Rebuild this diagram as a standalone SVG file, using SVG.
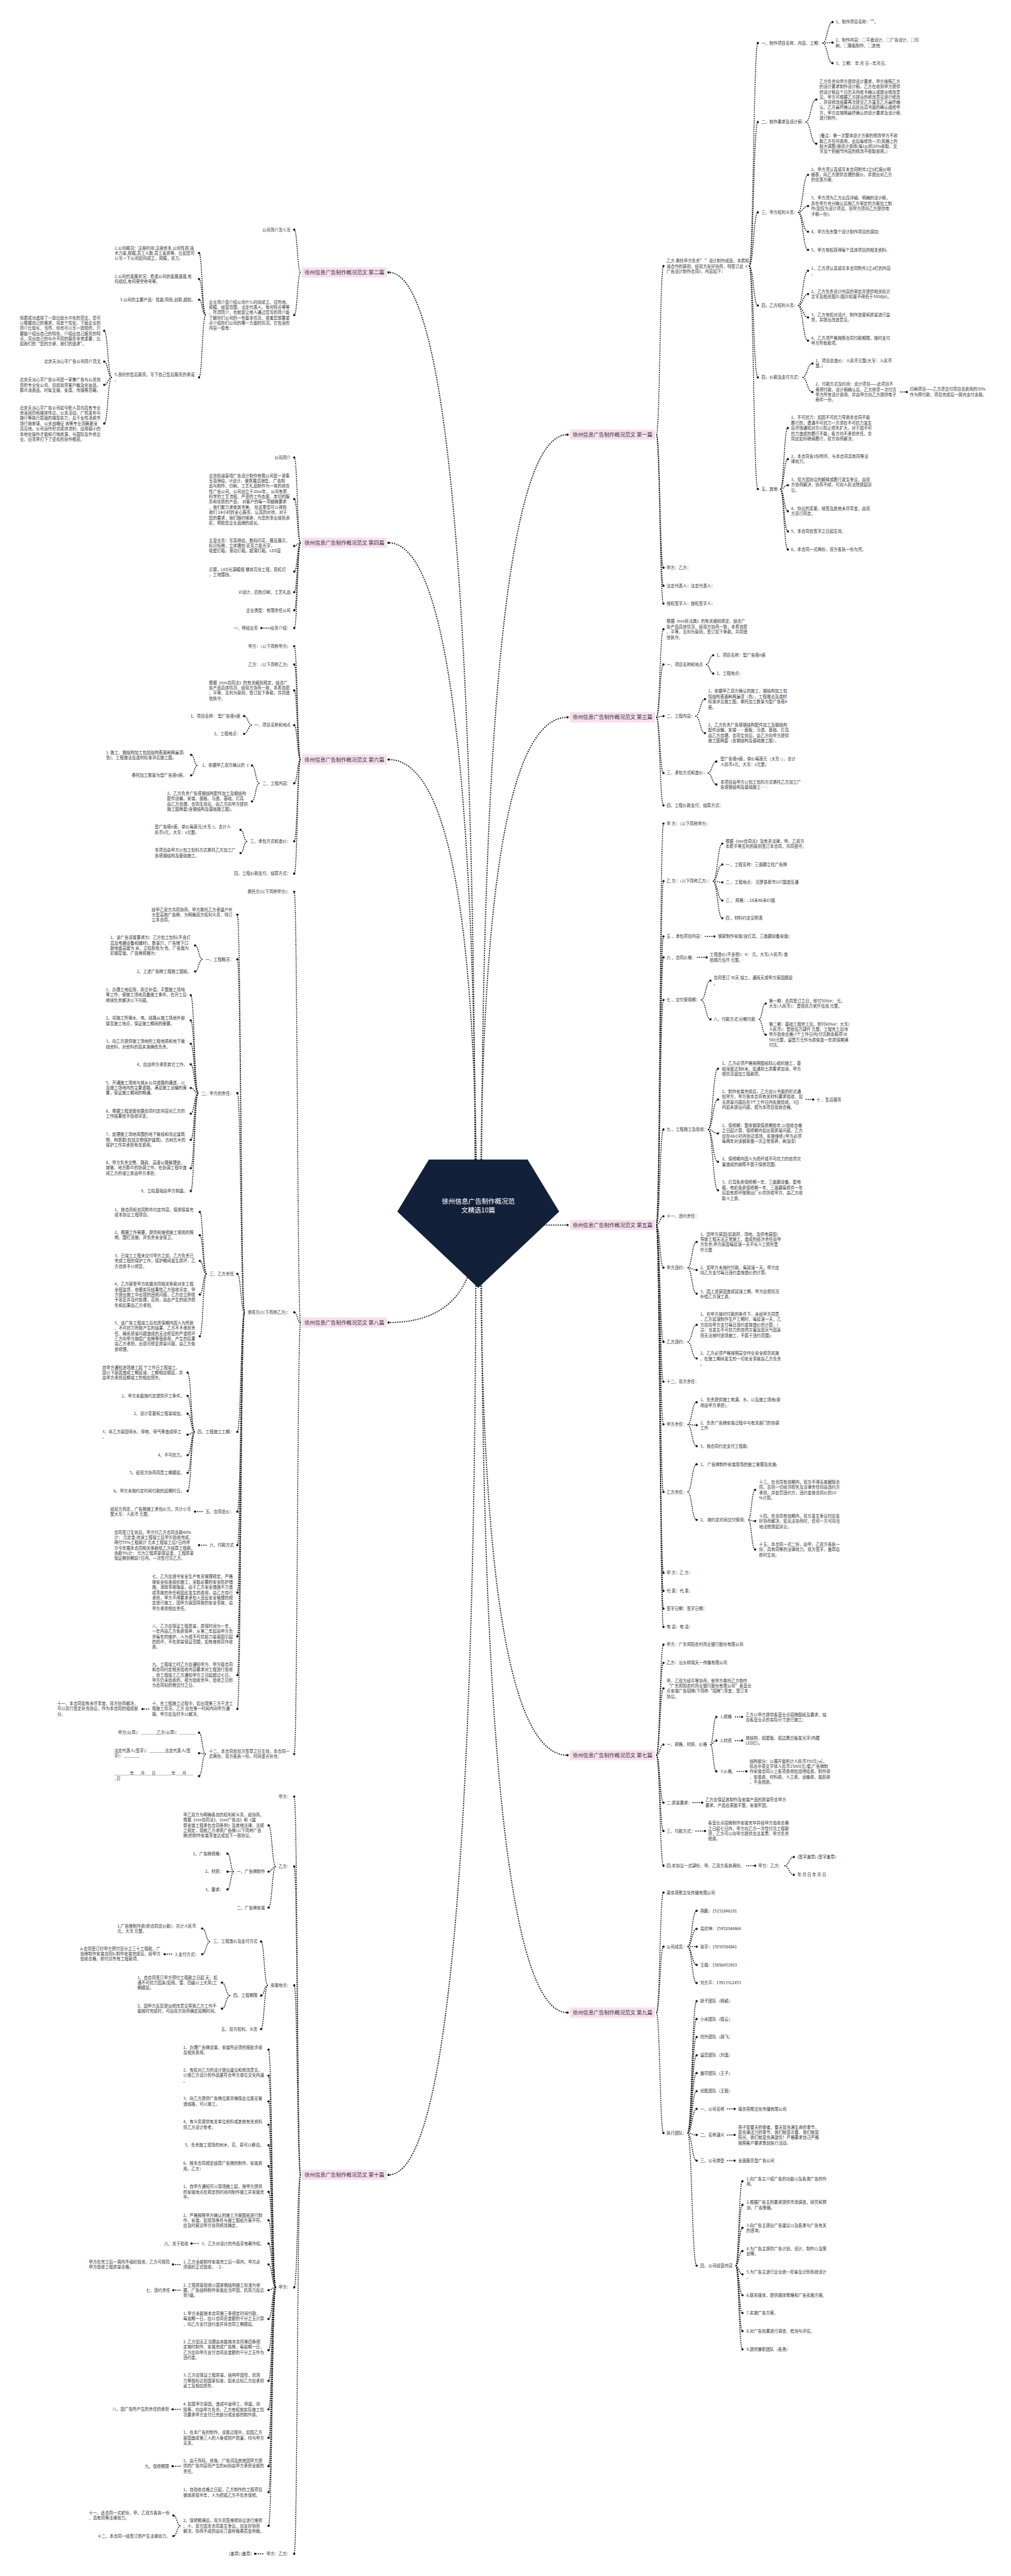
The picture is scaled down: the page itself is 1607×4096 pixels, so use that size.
<svg xmlns="http://www.w3.org/2000/svg" width="1607" height="4096" viewBox="0 0 1607 4096">
<defs>
<style>
.t{font-family:"Noto Sans CJK SC","Liberation Sans",sans-serif;font-size:10.25px;fill:#333}
.e{text-anchor:end}
.l1{font-family:"Noto Sans CJK SC","Liberation Sans",sans-serif;font-size:13.3px;fill:#333}
.cm{font-family:"Noto Sans CJK SC","Liberation Sans",sans-serif;font-size:16.8px;fill:#fff;text-anchor:middle}
.lb{fill:#f8dff0}
.c0{fill:none;stroke:#1a1a1a;stroke-width:2.9;stroke-dasharray:3 2.8;marker-end:url(#d)}
#cn path{fill:none;stroke:#1a1a1a;stroke-width:2.3;stroke-dasharray:3 2.4;marker-end:url(#d)}
</style>
<marker id="d" viewBox="0 0 8 8" refX="4" refY="4" markerWidth="7" markerHeight="7" markerUnits="userSpaceOnUse"><circle cx="4" cy="4" r="3.3" fill="#1a1a1a"/></marker>
</defs>
<rect width="1607" height="4096" fill="#fff"/>
<g transform="scale(0.62773)">
<g id="connectors">
<path class="c0" d="M1203 3100Q1203 690 984 690"/>
<path class="c0" d="M1205 3100Q1205 1375 984 1375"/>
<path class="c0" d="M1207 3100Q1207 1924 984 1924"/>
<path class="c0" d="M1207 3100Q1207 3350 984 3350"/>
<path class="c0" d="M1205 3100Q1205 5509 984 5509"/>
<path class="c0" d="M1219 3100Q1219 1101 1437 1101"/>
<path class="c0" d="M1217 3100Q1217 1817 1437 1817"/>
<path class="c0" d="M1215 3100Q1215 3103 1437 3103"/>
<path class="c0" d="M1217 3100Q1217 4446 1437 4446"/>
<path class="c0" d="M1219 3100Q1219 5098 1437 5098"/>
<g id="cn">
<path d="M1662 1101C1671 1101 1671 674 1680 674"/>
<path d="M1662 1101C1671 1101 1671 1438 1680 1438"/>
<path d="M1662 1101C1671 1101 1671 1484 1680 1484"/>
<path d="M1662 1101C1671 1101 1671 1529 1680 1529"/>
<path d="M1897 674C1908 674 1908 109 1919 109"/>
<path d="M1897 674C1908 674 1908 309 1919 309"/>
<path d="M1897 674C1908 674 1908 538 1919 538"/>
<path d="M1897 674C1908 674 1908 774 1919 774"/>
<path d="M1897 674C1908 674 1908 956 1919 956"/>
<path d="M1897 674C1908 674 1908 1239 1919 1239"/>
<path d="M2083 109C2095 109 2095 56 2108 56"/>
<path d="M2083 109C2095 109 2095 108 2108 108"/>
<path d="M2083 109C2095 109 2095 160 2108 160"/>
<path d="M2040 309C2053 309 2053 252 2067 252"/>
<path d="M2040 309C2053 309 2053 364 2067 364"/>
<path d="M2021 538C2033 538 2033 443 2046 443"/>
<path d="M2021 538C2033 538 2033 522 2046 522"/>
<path d="M2021 538C2033 538 2033 587 2046 587"/>
<path d="M2021 538C2033 538 2033 633 2046 633"/>
<path d="M2021 774C2033 774 2033 686 2046 686"/>
<path d="M2021 774C2033 774 2033 745 2046 745"/>
<path d="M2021 774C2033 774 2033 804 2046 804"/>
<path d="M2021 774C2033 774 2033 863 2046 863"/>
<path d="M2032 956C2044 956 2044 921 2057 921"/>
<path d="M2032 956C2044 956 2044 993 2057 993"/>
<path d="M2279 993L2296 993"/>
<path d="M1976 1239C1985 1239 1985 1084 1995 1084"/>
<path d="M1976 1239C1985 1239 1985 1163 1995 1163"/>
<path d="M1976 1239C1985 1239 1985 1229 1995 1229"/>
<path d="M1976 1239C1985 1239 1985 1295 1995 1295"/>
<path d="M1976 1239C1985 1239 1985 1346 1995 1346"/>
<path d="M1976 1239C1985 1239 1985 1392 1995 1392"/>
<path d="M1662 1817C1671 1817 1671 1594 1680 1594"/>
<path d="M1662 1817C1671 1817 1671 1683 1680 1683"/>
<path d="M1662 1817C1671 1817 1671 1814 1680 1814"/>
<path d="M1662 1817C1671 1817 1671 1958 1680 1958"/>
<path d="M1662 1817C1671 1817 1671 2040 1680 2040"/>
<path d="M1788 1683C1797 1683 1797 1660 1806 1660"/>
<path d="M1788 1683C1797 1683 1797 1706 1806 1706"/>
<path d="M1761 1814C1773 1814 1773 1771 1785 1771"/>
<path d="M1761 1814C1773 1814 1773 1857 1785 1857"/>
<path d="M1792 1958C1803 1958 1803 1929 1814 1929"/>
<path d="M1792 1958C1803 1958 1803 1987 1814 1987"/>
<path d="M1662 3103C1671 3103 1671 2086 1680 2086"/>
<path d="M1662 3103C1671 3103 1671 2232 1680 2232"/>
<path d="M1662 3103C1671 3103 1671 2372 1680 2372"/>
<path d="M1662 3103C1671 3103 1671 2425 1680 2425"/>
<path d="M1662 3103C1671 3103 1671 2533 1680 2533"/>
<path d="M1662 3103C1671 3103 1671 2861 1680 2861"/>
<path d="M1662 3103C1671 3103 1671 3081 1680 3081"/>
<path d="M1662 3103C1671 3103 1671 3211 1680 3211"/>
<path d="M1662 3103C1671 3103 1671 3399 1680 3399"/>
<path d="M1662 3103C1671 3103 1671 3500 1680 3500"/>
<path d="M1662 3103C1671 3103 1671 3608 1680 3608"/>
<path d="M1662 3103C1671 3103 1671 3779 1680 3779"/>
<path d="M1662 3103C1671 3103 1671 3984 1680 3984"/>
<path d="M1662 3103C1671 3103 1671 4030 1680 4030"/>
<path d="M1662 3103C1671 3103 1671 4075 1680 4075"/>
<path d="M1662 3103C1671 3103 1671 4121 1680 4121"/>
<path d="M1805 2232C1817 2232 1817 2137 1829 2137"/>
<path d="M1805 2232C1817 2232 1817 2190 1829 2190"/>
<path d="M1805 2232C1817 2232 1817 2235 1829 2235"/>
<path d="M1805 2232C1817 2232 1817 2281 1829 2281"/>
<path d="M1805 2232C1817 2232 1817 2326 1829 2326"/>
<path d="M1785 2372L1809 2372"/>
<path d="M1765 2425L1789 2425"/>
<path d="M1775 2533C1787 2533 1787 2484 1799 2484"/>
<path d="M1775 2533C1787 2533 1787 2582 1799 2582"/>
<path d="M1922 2582C1930 2582 1930 2542 1939 2542"/>
<path d="M1922 2582C1930 2582 1930 2621 1939 2621"/>
<path d="M1793 2861C1805 2861 1805 2707 1818 2707"/>
<path d="M1793 2861C1805 2861 1805 2785 1818 2785"/>
<path d="M1793 2861C1805 2861 1805 2871 1818 2871"/>
<path d="M1793 2861C1805 2861 1805 2943 1818 2943"/>
<path d="M1793 2861C1805 2861 1805 3015 1818 3015"/>
<path d="M2040 2785L2059 2785"/>
<path d="M1741 3211C1752 3211 1752 3146 1764 3146"/>
<path d="M1741 3211C1752 3211 1752 3217 1764 3217"/>
<path d="M1741 3211C1752 3211 1752 3277 1764 3277"/>
<path d="M1741 3399C1752 3399 1752 3356 1764 3356"/>
<path d="M1741 3399C1752 3399 1752 3441 1764 3441"/>
<path d="M1741 3608C1752 3608 1752 3552 1764 3552"/>
<path d="M1741 3608C1752 3608 1752 3610 1764 3610"/>
<path d="M1741 3608C1752 3608 1752 3663 1764 3663"/>
<path d="M1741 3779C1752 3779 1752 3709 1764 3709"/>
<path d="M1741 3779C1752 3779 1752 3850 1764 3850"/>
<path d="M1895 3850C1903 3850 1903 3774 1912 3774"/>
<path d="M1895 3850C1903 3850 1903 3853 1912 3853"/>
<path d="M1895 3850C1903 3850 1903 3925 1912 3925"/>
<path d="M1662 4446C1671 4446 1671 4166 1680 4166"/>
<path d="M1662 4446C1671 4446 1671 4212 1680 4212"/>
<path d="M1662 4446C1671 4446 1671 4277 1680 4277"/>
<path d="M1662 4446C1671 4446 1671 4419 1680 4419"/>
<path d="M1662 4446C1671 4446 1671 4566 1680 4566"/>
<path d="M1662 4446C1671 4446 1671 4638 1680 4638"/>
<path d="M1662 4446C1671 4446 1671 4726 1680 4726"/>
<path d="M1799 4419C1806 4419 1806 4349 1814 4349"/>
<path d="M1799 4419C1806 4419 1806 4409 1814 4409"/>
<path d="M1799 4419C1806 4419 1806 4487 1814 4487"/>
<path d="M1861 4349L1879 4349"/>
<path d="M1861 4409L1879 4409"/>
<path d="M1865 4487L1890 4487"/>
<path d="M1753 4566L1778 4566"/>
<path d="M1761 4638L1785 4638"/>
<path d="M1889 4726L1912 4726"/>
<path d="M1986 4726C1998 4726 1998 4704 2010 4704"/>
<path d="M1986 4726C1998 4726 1998 4749 2010 4749"/>
<path d="M1662 5098C1671 5098 1671 4794 1680 4794"/>
<path d="M1662 5098C1671 5098 1671 4931 1680 4931"/>
<path d="M1662 5098C1671 5098 1671 5403 1680 5403"/>
<path d="M1741 4931C1752 4931 1752 4840 1764 4840"/>
<path d="M1741 4931C1752 4931 1752 4886 1764 4886"/>
<path d="M1741 4931C1752 4931 1752 4931 1764 4931"/>
<path d="M1741 4931C1752 4931 1752 4977 1764 4977"/>
<path d="M1741 4931C1752 4931 1752 5023 1764 5023"/>
<path d="M1741 5403C1752 5403 1752 5069 1764 5069"/>
<path d="M1741 5403C1752 5403 1752 5114 1764 5114"/>
<path d="M1741 5403C1752 5403 1752 5160 1764 5160"/>
<path d="M1741 5403C1752 5403 1752 5206 1764 5206"/>
<path d="M1741 5403C1752 5403 1752 5251 1764 5251"/>
<path d="M1741 5403C1752 5403 1752 5297 1764 5297"/>
<path d="M1741 5403C1752 5403 1752 5342 1764 5342"/>
<path d="M1741 5403C1752 5403 1752 5408 1764 5408"/>
<path d="M1741 5403C1752 5403 1752 5473 1764 5473"/>
<path d="M1741 5403C1752 5403 1752 5739 1764 5739"/>
<path d="M1841 5342L1860 5342"/>
<path d="M1841 5408L1860 5408"/>
<path d="M1841 5473L1860 5473"/>
<path d="M1863 5739C1871 5739 1871 5525 1880 5525"/>
<path d="M1863 5739C1871 5739 1871 5585 1880 5585"/>
<path d="M1863 5739C1871 5739 1871 5643 1880 5643"/>
<path d="M1863 5739C1871 5739 1871 5702 1880 5702"/>
<path d="M1863 5739C1871 5739 1871 5761 1880 5761"/>
<path d="M1863 5739C1871 5739 1871 5814 1880 5814"/>
<path d="M1863 5739C1871 5739 1871 5859 1880 5859"/>
<path d="M1863 5739C1871 5739 1871 5905 1880 5905"/>
<path d="M1863 5739C1871 5739 1871 5951 1880 5951"/>
<path d="M761 690C753 690 753 582 745 582"/>
<path d="M761 690C753 690 753 798 745 798"/>
<path d="M521 798C512 798 512 641 504 641"/>
<path d="M521 798C512 798 512 707 504 707"/>
<path d="M521 798C512 798 512 759 504 759"/>
<path d="M521 798C512 798 512 956 504 956"/>
<path d="M283 956C273 956 273 838 264 838"/>
<path d="M283 956C273 956 273 916 264 916"/>
<path d="M283 956C273 956 273 975 264 975"/>
<path d="M283 956C273 956 273 1073 264 1073"/>
<path d="M761 1375C753 1375 753 1159 745 1159"/>
<path d="M761 1375C753 1375 753 1264 745 1264"/>
<path d="M761 1375C753 1375 753 1383 745 1383"/>
<path d="M761 1375C753 1375 753 1448 745 1448"/>
<path d="M761 1375C753 1375 753 1500 745 1500"/>
<path d="M761 1375C753 1375 753 1546 745 1546"/>
<path d="M761 1375C753 1375 753 1591 745 1591"/>
<path d="M686 1591L662 1591"/>
<path d="M761 1924C753 1924 753 1637 745 1637"/>
<path d="M761 1924C753 1924 753 1683 745 1683"/>
<path d="M761 1924C753 1924 753 1749 745 1749"/>
<path d="M761 1924C753 1924 753 1837 745 1837"/>
<path d="M761 1924C753 1924 753 1984 745 1984"/>
<path d="M761 1924C753 1924 753 2131 745 2131"/>
<path d="M761 1924C753 1924 753 2213 745 2213"/>
<path d="M638 1837C628 1837 628 1814 618 1814"/>
<path d="M638 1837C628 1837 628 1859 618 1859"/>
<path d="M657 1984C647 1984 647 1939 638 1939"/>
<path d="M657 1984C647 1984 647 2030 638 2030"/>
<path d="M500 1939C492 1939 492 1912 484 1912"/>
<path d="M500 1939C492 1939 492 1964 484 1964"/>
<path d="M626 2131C617 2131 617 2102 609 2102"/>
<path d="M626 2131C617 2131 617 2161 609 2161"/>
<path d="M761 3350C753 3350 753 2259 745 2259"/>
<path d="M761 3350C753 3350 753 3324 745 3324"/>
<path d="M761 3350C753 3350 753 4443 745 4443"/>
<path d="M619 3324C610 3324 610 2317 601 2317"/>
<path d="M619 3324C610 3324 610 2430 601 2430"/>
<path d="M619 3324C610 3324 610 2769 601 2769"/>
<path d="M619 3324C610 3324 610 3227 601 3227"/>
<path d="M619 3324C610 3324 610 3627 601 3627"/>
<path d="M619 3324C610 3324 610 3829 601 3829"/>
<path d="M619 3324C610 3324 610 3914 601 3914"/>
<path d="M619 3324C610 3324 610 4034 601 4034"/>
<path d="M619 3324C610 3324 610 4145 601 4145"/>
<path d="M619 3324C610 3324 610 4243 601 4243"/>
<path d="M619 3324C610 3324 610 4329 601 4329"/>
<path d="M513 2430C503 2430 503 2395 494 2395"/>
<path d="M513 2430C503 2430 503 2461 494 2461"/>
<path d="M502 2769C492 2769 492 2521 483 2521"/>
<path d="M502 2769C492 2769 492 2585 483 2585"/>
<path d="M502 2769C492 2769 492 2644 483 2644"/>
<path d="M502 2769C492 2769 492 2696 483 2696"/>
<path d="M502 2769C492 2769 492 2756 483 2756"/>
<path d="M502 2769C492 2769 492 2821 483 2821"/>
<path d="M502 2769C492 2769 492 2887 483 2887"/>
<path d="M502 2769C492 2769 492 2959 483 2959"/>
<path d="M502 2769C492 2769 492 3017 483 3017"/>
<path d="M523 3227C514 3227 514 3070 506 3070"/>
<path d="M523 3227C514 3227 514 3129 506 3129"/>
<path d="M523 3227C514 3227 514 3194 506 3194"/>
<path d="M523 3227C514 3227 514 3279 506 3279"/>
<path d="M523 3227C514 3227 514 3385 506 3385"/>
<path d="M493 3627C484 3627 484 3477 475 3477"/>
<path d="M493 3627C484 3627 484 3536 475 3536"/>
<path d="M493 3627C484 3627 484 3581 475 3581"/>
<path d="M493 3627C484 3627 484 3634 475 3634"/>
<path d="M493 3627C484 3627 484 3686 475 3686"/>
<path d="M493 3627C484 3627 484 3731 475 3731"/>
<path d="M493 3627C484 3627 484 3777 475 3777"/>
<path d="M513 3829L494 3829"/>
<path d="M523 3914L504 3914"/>
<path d="M378 4329L361 4329"/>
<path d="M521 4443C512 4443 512 4389 504 4389"/>
<path d="M521 4443C512 4443 512 4441 504 4441"/>
<path d="M521 4443C512 4443 512 4499 504 4499"/>
<path d="M761 5509C753 5509 753 4551 745 4551"/>
<path d="M761 5509C753 5509 753 4728 745 4728"/>
<path d="M761 5509C753 5509 753 5029 745 5029"/>
<path d="M761 5509C753 5509 753 5794 745 5794"/>
<path d="M761 5509C753 5509 753 6469 745 6469"/>
<path d="M698 4728C689 4728 689 4624 680 4624"/>
<path d="M698 4728C689 4728 689 4741 680 4741"/>
<path d="M698 4728C689 4728 689 4832 680 4832"/>
<path d="M592 4741C584 4741 584 4695 576 4695"/>
<path d="M592 4741C584 4741 584 4741 576 4741"/>
<path d="M592 4741C584 4741 584 4786 576 4786"/>
<path d="M678 5029C669 5029 669 4918 661 4918"/>
<path d="M678 5029C669 5029 669 5055 661 5055"/>
<path d="M678 5029C669 5029 669 5140 661 5140"/>
<path d="M532 4918C522 4918 522 4885 512 4885"/>
<path d="M532 4918C522 4918 522 4950 512 4950"/>
<path d="M436 4950L417 4950"/>
<path d="M583 5055C572 5055 572 5022 562 5022"/>
<path d="M583 5055C572 5055 572 5088 562 5088"/>
<path d="M698 5794C689 5794 689 5192 680 5192"/>
<path d="M698 5794C689 5794 689 5258 680 5258"/>
<path d="M698 5794C689 5794 689 5323 680 5323"/>
<path d="M698 5794C689 5794 689 5382 680 5382"/>
<path d="M698 5794C689 5794 689 5434 680 5434"/>
<path d="M698 5794C689 5794 689 5487 680 5487"/>
<path d="M698 5794C689 5794 689 5552 680 5552"/>
<path d="M698 5794C689 5794 689 5624 680 5624"/>
<path d="M698 5794C689 5794 689 5683 680 5683"/>
<path d="M698 5794C689 5794 689 5736 680 5736"/>
<path d="M698 5794C689 5794 689 5801 680 5801"/>
<path d="M698 5794C689 5794 689 5874 680 5874"/>
<path d="M698 5794C689 5794 689 5953 680 5953"/>
<path d="M698 5794C689 5794 689 6031 680 6031"/>
<path d="M698 5794C689 5794 689 6103 680 6103"/>
<path d="M698 5794C689 5794 689 6175 680 6175"/>
<path d="M698 5794C689 5794 689 6247 680 6247"/>
<path d="M698 5794C689 5794 689 6313 680 6313"/>
<path d="M698 5794C689 5794 689 6398 680 6398"/>
<path d="M503 5683L485 5683"/>
<path d="M457 5736L438 5736"/>
<path d="M457 5801L439 5801"/>
<path d="M457 6103L437 6103"/>
<path d="M457 6247L437 6247"/>
<path d="M457 6398C448 6398 448 6372 439 6372"/>
<path d="M457 6398C448 6398 448 6424 439 6424"/>
<path d="M667 6469L646 6469"/>
</g>
</g>
<g id="center"><polygon points="1086,2937 1336,2937 1416,3069 1211,3262 1006,3069" fill="#13203a"/><text class="cm" x="1211" y="3049">徐州信息广告制作概况范</text><text class="cm" x="1211" y="3072">文精选10篇</text></g>
<g id="p1"><rect class="lb" x="1443" y="1088" width="216" height="26"/><text class="l1" x="1450" y="1105.6">徐州信息广告制作概况范文 第一篇</text></g>
<g id="p3"><rect class="lb" x="1443" y="1804" width="216" height="26"/><text class="l1" x="1450" y="1821.6">徐州信息广告制作概况范文 第三篇</text></g>
<g id="p5"><rect class="lb" x="1443" y="3090" width="216" height="26"/><text class="l1" x="1450" y="3107.6">徐州信息广告制作概况范文 第五篇</text></g>
<g id="p7"><rect class="lb" x="1443" y="4433" width="216" height="26"/><text class="l1" x="1450" y="4450.6">徐州信息广告制作概况范文 第七篇</text></g>
<g id="p9"><rect class="lb" x="1443" y="5085" width="216" height="26"/><text class="l1" x="1450" y="5102.6">徐州信息广告制作概况范文 第九篇</text></g>
<g id="p2"><rect class="lb" x="764" y="677" width="216" height="26"/><text class="l1" x="771" y="694.6">徐州信息广告制作概况范文 第二篇</text></g>
<g id="p4"><rect class="lb" x="764" y="1362" width="216" height="26"/><text class="l1" x="771" y="1379.6">徐州信息广告制作概况范文 第四篇</text></g>
<g id="p6"><rect class="lb" x="764" y="1911" width="216" height="26"/><text class="l1" x="771" y="1928.6">徐州信息广告制作概况范文 第六篇</text></g>
<g id="p8"><rect class="lb" x="764" y="3337" width="216" height="26"/><text class="l1" x="771" y="3354.6">徐州信息广告制作概况范文 第八篇</text></g>
<g id="p10"><rect class="lb" x="764" y="5496" width="216" height="26"/><text class="l1" x="771" y="5513.6">徐州信息广告制作概况范文 第十篇</text></g>

<g id="n1a"><text class="t" x="1688" y="664.7"><tspan x="1688">乙方 委托甲方负责” ”设计制作成品，本着精</tspan><tspan x="1688" dy="13.4">诚合作的原则，经双方友好协商，特签订此《</tspan><tspan x="1688" dy="13.4">广告设计制作合同》，内容如下：</tspan></text></g>
<g id="n1a1"><text class="t" x="1928" y="112.7">一、制作项目名称、内容、工期：</text></g>
<g id="n1a1a"><text class="t" x="2116" y="59.7">1、制作项目名称：“”。</text></g>
<g id="n1a1b"><text class="t" x="2116" y="105.7"><tspan x="2116">2、制作内容：□平面设计、□广告设计、□印</tspan><tspan x="2116" dy="13.4">刷、□展板制作、□其他</tspan></text></g>
<g id="n1a1c"><text class="t" x="2116" y="163.7">3、工期： 年 月 日—年月日。</text></g>
<g id="n1a2"><text class="t" x="1928" y="312.7">二、制作要求及设计稿：</text></g>
<g id="n1a2a"><text class="t" x="2075" y="210.7"><tspan x="2075">乙方负责向甲方提供设计要求，甲方按照乙方</tspan><tspan x="2075" dy="13.1">的设计要求制作设计稿，乙方在收到甲方提供</tspan><tspan x="2075" dy="13.1">的设计稿后个日历天内给予确认或提出修改意</tspan><tspan x="2075" dy="13.1">见。甲方可根据乙方提出的修改意见进行修改</tspan><tspan x="2075" dy="13.1">，并将修改结果再次提交乙方直至乙方最终确</tspan><tspan x="2075" dy="13.1">认。乙方最终确认后应出具书面的确认函给甲</tspan><tspan x="2075" dy="13.1">方，甲方应按照最终确认的设计要求及设计稿</tspan><tspan x="2075" dy="13.1">进行制作。</tspan></text></g>
<g id="n1a2b"><text class="t" x="2075" y="347.7"><tspan x="2075">[备注：第一次整体设计方案的修改甲方不收</tspan><tspan x="2075" dy="13.4">取乙方任何费用，此后每修改一次(风格上的</tspan><tspan x="2075" dy="13.4">较大调整)按设计费用(每1p)的20%收取。文</tspan><tspan x="2075" dy="13.4">字及个别细节内容的修改不收取费用。]</tspan></text></g>
<g id="n1a3"><text class="t" x="1928" y="541.7">三、甲方权利义务：</text></g>
<g id="n1a3a"><text class="t" x="2054" y="432.7"><tspan x="2054">2、甲方须认真填写本合同附件2之b栏报价明</tspan><tspan x="2054" dy="13.4">细表，向乙方提供合理的报价，并提出对乙方</tspan><tspan x="2054" dy="13.4">的优惠方案;</tspan></text></g>
<g id="n1a3b"><text class="t" x="2054" y="505.7"><tspan x="2054">3、甲方须为乙方出具详细、明确的设计稿，</tspan><tspan x="2054" dy="13.4">并在甲方充分确认后按乙方审定的方案加工制</tspan><tspan x="2054" dy="13.4">作(如仅为设计项目，则甲方须向乙方提供电</tspan><tspan x="2054" dy="13.4">子稿一份);</tspan></text></g>
<g id="n1a3c"><text class="t" x="2054" y="590.7">4、甲方负责整个设计制作项目的调控;</text></g>
<g id="n1a3d"><text class="t" x="2054" y="636.7">5、甲方有权获得每个具体项目的相关资料;</text></g>
<g id="n1a4"><text class="t" x="1928" y="777.7">四、乙方权利义务：</text></g>
<g id="n1a4a"><text class="t" x="2054" y="682.7"><tspan x="2054">1、乙方须认真填写本合同附件2之a栏的内容</tspan><tspan x="2054" dy="13.4">，</tspan></text></g>
<g id="n1a4b"><text class="t" x="2054" y="741.7"><tspan x="2054">2、乙方负责设计内容的审定并提供相关标识</tspan><tspan x="2054" dy="13.4">文字及相关图片(图片精度不得低于300dpi)。</tspan></text></g>
<g id="n1a4c"><text class="t" x="2054" y="800.7"><tspan x="2054">3、乙方有权对设计、制作进度和质量进行监</tspan><tspan x="2054" dy="13.4">督，并提出改进意见。</tspan></text></g>
<g id="n1a4d"><text class="t" x="2054" y="859.7"><tspan x="2054">4、乙方须严格按照合同付款期限，按时支付</tspan><tspan x="2054" dy="13.4">甲方所有款项。</tspan></text></g>
<g id="n1a5"><text class="t" x="1928" y="959.7">四、价款及支付方式：</text></g>
<g id="n1a5a"><text class="t" x="2065" y="917.7"><tspan x="2065">1、项目总造价：人民币元整(大写：人民币</tspan><tspan x="2065" dy="13.4">整。)</tspan></text></g>
<g id="n1a5b"><text class="t" x="2065" y="976.7"><tspan x="2065">2、付款方式及时间：设计项目——此项目不</tspan><tspan x="2065" dy="13.4">需预付款，设计稿确认后，乙方即须一次付清</tspan><tspan x="2065" dy="13.4">甲方所有设计费用，并由甲方向乙方提供电子</tspan><tspan x="2065" dy="13.4">稿件一份。</tspan></text></g>
<g id="n1a5b1"><text class="t" x="2304" y="989.7"><tspan x="2304">印刷项目——乙方须交付项目总费用的30%</tspan><tspan x="2304" dy="13.4">作为预付款，项目完成后一周内支付余款。</tspan></text></g>
<g id="n1a6"><text class="t" x="1928" y="1242.7">五、其他</text></g>
<g id="n1a6a"><text class="t" x="2003" y="1061.7"><tspan x="2003">1、不可抗力：如因不可抗力导致本合同不能</tspan><tspan x="2003" dy="13.3">履行的，遭遇不可抗力一方须在不可抗力发生</tspan><tspan x="2003" dy="13.3">后尽快通知对方以防止损失扩大。对于因不可</tspan><tspan x="2003" dy="13.3">抗力造成的履行不能，各方均不承担责任。合</tspan><tspan x="2003" dy="13.3">同应如何继续履行，双方协商解决。</tspan></text></g>
<g id="n1a6b"><text class="t" x="2003" y="1159.7"><tspan x="2003">2、本合同含2份附件，与本合同具有同等法</tspan><tspan x="2003" dy="13.4">律效力。</tspan></text></g>
<g id="n1a6c"><text class="t" x="2003" y="1218.7"><tspan x="2003">3、双方因协议的解释或履行发生争议，由双</tspan><tspan x="2003" dy="13.4">方协商解决，协商不成，可向人民法院提起诉</tspan><tspan x="2003" dy="13.4">讼。</tspan></text></g>
<g id="n1a6d"><text class="t" x="2003" y="1291.7"><tspan x="2003">4、协议的变更、续签及其他未尽事宜，由双</tspan><tspan x="2003" dy="13.4">方另行商定。</tspan></text></g>
<g id="n1a6e"><text class="t" x="2003" y="1349.7">5、本合同自签字之日起生效。</text></g>
<g id="n1a6f"><text class="t" x="2003" y="1395.7">6、本合同一式两份，双方各执一份为凭。</text></g>
<g id="n1b"><text class="t" x="1688" y="1441.7">甲方：乙方：</text></g>
<g id="n1c"><text class="t" x="1688" y="1487.7">法定代表人：法定代表人：</text></g>
<g id="n1d"><text class="t" x="1688" y="1532.7">授权签字人：授权签字人：</text></g>

<g id="n3a"><text class="t" x="1688" y="1577.7"><tspan x="1688">根据《xxx民法典》的有关细则规定，结合广</tspan><tspan x="1688" dy="13.4">告产品具体情况，经双方协商一致，本着自愿</tspan><tspan x="1688" dy="13.4">、平等、互利为原则，签订如下条款，共同遵</tspan><tspan x="1688" dy="13.4">信执守。</tspan></text></g>
<g id="n3b"><text class="t" x="1688" y="1686.7">一、项目名称和地点</text></g>
<g id="n3b1"><text class="t" x="1814" y="1663.7">1、项目名称：型广告塔n座</text></g>
<g id="n3b2"><text class="t" x="1814" y="1709.7">2、工程地点：</text></g>
<g id="n3c"><text class="t" x="1688" y="1817.7">二、工程内容：</text></g>
<g id="n3c1"><text class="t" x="1793" y="1754.7"><tspan x="1793">1、依据甲乙双方确认的施工，钢结构加工包</tspan><tspan x="1793" dy="13.4">括结构表面刷两遍漆（色），工程做法及选材</tspan><tspan x="1793" dy="13.4">标准详见施工图。委托加工数量为型广告塔n</tspan><tspan x="1793" dy="13.4">座。</tspan></text></g>
<g id="n3c2"><text class="t" x="1793" y="1839.7"><tspan x="1793">2、乙方负责广告塔钢结构配件加工及钢结构</tspan><tspan x="1793" dy="13.4">配件运输、安装……面板、马道、基础、灯具</tspan><tspan x="1793" dy="13.4">由乙方自理。合同生效后，由乙方向甲方提供</tspan><tspan x="1793" dy="13.4">施工图两套（含钢结构及基础施工图）。</tspan></text></g>
<g id="n3d"><text class="t" x="1688" y="1961.7">三、承包方式和造价：</text></g>
<g id="n3d1"><text class="t" x="1824" y="1926.7"><tspan x="1824">型广告塔n座，单价每座元（大写：）。合计</tspan><tspan x="1824" dy="13.4">人民币x元，大写：x元整；</tspan></text></g>
<g id="n3d2"><text class="t" x="1824" y="1984.7"><tspan x="1824">本项目由甲方以包工包料方式委托乙方加工广</tspan><tspan x="1824" dy="13.4">告塔钢结构及基础施工……</tspan></text></g>
<g id="n3e"><text class="t" x="1688" y="2043.7">四、工程价款支付、结算方式：</text></g>

<g id="n5a"><text class="t" x="1688" y="2089.7">甲 方：（以下简称甲方）</text></g>
<g id="n5b"><text class="t" x="1688" y="2235.7">乙 方：（以下简称乙方）：</text></g>
<g id="n5b1"><text class="t" x="1837" y="2134.7"><tspan x="1837">根据《xxx合同法》及有关法律，甲、乙双方</tspan><tspan x="1837" dy="13.4">本着平等互利的原则签订本合同，共同遵守。</tspan></text></g>
<g id="n5b2"><text class="t" x="1837" y="2193.7">一 、工程名称：三面翻立柱广告牌</text></g>
<g id="n5b3"><text class="t" x="1837" y="2238.7">二 、工程地点： 汨罗县新市107国道互通</text></g>
<g id="n5b4"><text class="t" x="1837" y="2284.7">三 、 规格：; 18米X6米X3面</text></g>
<g id="n5b5"><text class="t" x="1837" y="2329.7">四 、材料约定见附表</text></g>
<g id="n5c"><text class="t" x="1688" y="2375.7">五 、承包项目内容：</text></g>
<g id="n5c1"><text class="t" x="1818" y="2375.7">钢架制作安装(含灯具，三面翻设备安装)</text></g>
<g id="n5d"><text class="t" x="1688" y="2428.7">六 、合同价格：</text></g>
<g id="n5d1"><text class="t" x="1797" y="2421.7"><tspan x="1797">工程造价(不含税)：¥： 元，大写(人民币) 叁</tspan><tspan x="1797" dy="13.4">拾捌万伍仟 元整。</tspan></text></g>
<g id="n5e"><text class="t" x="1688" y="2536.7">七 、交付使用期：</text></g>
<g id="n5e1"><text class="t" x="1807" y="2480.7"><tspan x="1807">合同签订 30天 竣工。遇雨天或甲方原因顺延</tspan><tspan x="1807" dy="13.4">。</tspan></text></g>
<g id="n5e2"><text class="t" x="1807" y="2585.7">八、付款方式:分期付款</text></g>
<g id="n5e2a"><text class="t" x="1947" y="2538.7"><tspan x="1947">第一期：合同签订之日，即付50%¥： 元，</tspan><tspan x="1947" dy="13.4">大写(人民币)： 壹拾玖万贰仟伍佰 元整。</tspan></text></g>
<g id="n5e2b"><text class="t" x="1947" y="2597.7"><tspan x="1947">第二期：基础工程完工后，即付40%¥：大写(</tspan><tspan x="1947" dy="13.4">人民币)：壹拾伍万肆仟 元整，工程完工后待</tspan><tspan x="1947" dy="13.4">甲方验收合格(7个工作日内)付清剩余款项38</tspan><tspan x="1947" dy="13.4">500元整，留壹万元作为质保金一年质保期满</tspan><tspan x="1947" dy="13.4">付清。</tspan></text></g>
<g id="n5f"><text class="t" x="1688" y="2864.7">九 、工程施工及验收：</text></g>
<g id="n5f1"><text class="t" x="1828" y="2697.7"><tspan x="1828">1、乙方必须严格按照图纸精心组织施工，基</tspan><tspan x="1828" dy="13.4">础深度达到6米，如遇到土质要求加深，甲方</tspan><tspan x="1828" dy="13.4">视情况追加工程款项。</tspan></text></g>
<g id="n5f2"><text class="t" x="1828" y="2768.7"><tspan x="1828">2、制作安装完成后，乙方应以书面的形式通</tspan><tspan x="1828" dy="13.4">知甲方，甲方按本合同有关材料要求验收，如</tspan><tspan x="1828" dy="13.4">无质量问题后在3个工作日内实施验收。3日</tspan><tspan x="1828" dy="13.4">内如未提出问题，视为本项目验收合格。</tspan></text></g>
<g id="n5f2a"><text class="t" x="2067" y="2788.7">十 、售后服务</text></g>
<g id="n5f3"><text class="t" x="1828" y="2854.7"><tspan x="1828">1、保修期：整体钢架保质期拾年,以验收合格</tspan><tspan x="1828" dy="13.4">之日起计算，保修期内如出现质量问题，乙方</tspan><tspan x="1828" dy="13.4">应在48小时内到达现场，实施维修;(甲方必须</tspan><tspan x="1828" dy="13.4">每两年对该钢架做一次正常保养，刷油漆)</tspan></text></g>
<g id="n5f4"><text class="t" x="1828" y="2939.7"><tspan x="1828">2、保修期内因人为损坏或不可抗力的自然灾</tspan><tspan x="1828" dy="13.4">害造成的故障不属于保修范围;</tspan></text></g>
<g id="n5f5"><text class="t" x="1828" y="2998.7"><tspan x="1828">3、灯具免费保修期一年，三面翻设备，配电</tspan><tspan x="1828" dy="13.4">箱、电机免费保修期一年，三面翻易损件一年</tspan><tspan x="1828" dy="13.4">后如有损坏按照出厂价供货给甲方，由乙方收</tspan><tspan x="1828" dy="13.4">取人工费。</tspan></text></g>
<g id="n5g"><text class="t" x="1688" y="3084.7">十一、违约责任：</text></g>
<g id="n5h"><text class="t" x="1688" y="3214.7">甲方违约：</text></g>
<g id="n5h1"><text class="t" x="1773" y="3129.7"><tspan x="1773">1、因甲方原因(如政府、场地、及供电原因)</tspan><tspan x="1773" dy="13.4">导致工程无法正常施工，造成的经济责任由甲</tspan><tspan x="1773" dy="13.4">方负责;甲方原因每延误一天不长人工损失壹</tspan><tspan x="1773" dy="13.4">仟元整</tspan></text></g>
<g id="n5h2"><text class="t" x="1773" y="3214.7"><tspan x="1773">2、如甲方未按时付款，每延误一天，甲方应</tspan><tspan x="1773" dy="13.4">向乙方支付每日违约金按造价的计算;</tspan></text></g>
<g id="n5h3"><text class="t" x="1773" y="3274.7"><tspan x="1773">3、因上述原因造成延误工期，甲方应视情况</tspan><tspan x="1773" dy="13.4">补给乙方误工费。</tspan></text></g>
<g id="n5i"><text class="t" x="1688" y="3402.7">乙方违约：</text></g>
<g id="n5i1"><text class="t" x="1773" y="3332.7"><tspan x="1773">1、在甲方按时付款的条件下，未经甲方同意</tspan><tspan x="1773" dy="13.4">，乙方延误制作生产工期时，每延误一天，乙</tspan><tspan x="1773" dy="13.4">方应向甲方支付每日违约金按造价的计算。(</tspan><tspan x="1773" dy="13.4">注：当发生不可抗力的自然灾害及因天气因素</tspan><tspan x="1773" dy="13.4">而无法按时进场施工，不属于违约范围);</tspan></text></g>
<g id="n5i2"><text class="t" x="1773" y="3431.7"><tspan x="1773">2、乙方必须严格按照高空作业安全规范实施</tspan><tspan x="1773" dy="13.4">，在施工期间发生的一切安全事故由乙方负责</tspan><tspan x="1773" dy="13.4">。</tspan></text></g>
<g id="n5j"><text class="t" x="1688" y="3503.7">十二、双方责任：</text></g>
<g id="n5k"><text class="t" x="1688" y="3611.7">甲方责任：</text></g>
<g id="n5k1"><text class="t" x="1773" y="3549.7"><tspan x="1773">1、负责提供施工电源、水、以及施工场地(费</tspan><tspan x="1773" dy="13.4">用由甲方承担)。</tspan></text></g>
<g id="n5k2"><text class="t" x="1773" y="3607.7"><tspan x="1773">2、负责广告牌安装过程中与有关部门的协调</tspan><tspan x="1773" dy="13.4">工作</tspan></text></g>
<g id="n5k3"><text class="t" x="1773" y="3666.7">3、按合同约定支付工程款;</text></g>
<g id="n5l"><text class="t" x="1688" y="3782.7">乙方责任：</text></g>
<g id="n5l1"><text class="t" x="1773" y="3712.7">1、 广告牌制作安装现场的施工管理及实施;</text></g>
<g id="n5l2"><text class="t" x="1773" y="3853.7">2、 按约定时间交付使用;</text></g>
<g id="n5l2a"><text class="t" x="1922" y="3757.7"><tspan x="1922">十三、在合同有效期内，双方不得无故解除合</tspan><tspan x="1922" dy="13.4">同，否则一切经济损失及法律责任均由违约方</tspan><tspan x="1922" dy="13.4">承担。并处罚违约方，违约金按合同价的10</tspan><tspan x="1922" dy="13.4">%计算。</tspan></text></g>
<g id="n5l2b"><text class="t" x="1922" y="3843.7"><tspan x="1922">十四、在合同有效期内，双方发生争议时应友</tspan><tspan x="1922" dy="13.4">好协商解决，如无法协商时，任何一方可向当</tspan><tspan x="1922" dy="13.4">地法院提起诉讼。</tspan></text></g>
<g id="n5l2c"><text class="t" x="1922" y="3915.7"><tspan x="1922">十五、本合同一式二份，由甲、乙双方各执一</tspan><tspan x="1922" dy="13.4">份，具有同等的法律效力。双方签字、盖章后</tspan><tspan x="1922" dy="13.4">即时生效。</tspan></text></g>
<g id="n5m"><text class="t" x="1688" y="3987.7">甲 方：乙 方：</text></g>
<g id="n5n"><text class="t" x="1688" y="4033.7">代 表：代 表：</text></g>
<g id="n5o"><text class="t" x="1688" y="4078.7">签字日期：签字日期：</text></g>
<g id="n5p"><text class="t" x="1688" y="4124.7">电 话：电 话：</text></g>

<g id="n7a"><text class="t" x="1688" y="4169.7">甲方：广东揭阳农村商业银行股份有限公司</text></g>
<g id="n7b"><text class="t" x="1688" y="4215.7">乙方：汕头祥瑞天一传播有限公司</text></g>
<g id="n7c"><text class="t" x="1688" y="4260.7"><tspan x="1688">甲、乙双方经平等协商，就甲方委托乙方制作</tspan><tspan x="1688" dy="13.4">“广东揭阳农村商业银行股份有限公司”各营业</tspan><tspan x="1688" dy="13.4">点安装广告招牌(下简称“招牌”)事宜，签订本</tspan><tspan x="1688" dy="13.4">协议。</tspan></text></g>
<g id="n7d"><text class="t" x="1688" y="4422.7">一、规格、材质、价格</text></g>
<g id="n7d1"><text class="t" x="1824" y="4352.7">1.规格</text></g>
<g id="n7d1a"><text class="t" x="1888" y="4346.7"><tspan x="1888">乙方以甲方提供各营业点招牌图纸及要求，结</tspan><tspan x="1888" dy="13.4">合各营业点的实际尺寸进行施工;</tspan></text></g>
<g id="n7d2"><text class="t" x="1824" y="4412.7">2.材质</text></g>
<g id="n7d2a"><text class="t" x="1888" y="4405.7"><tspan x="1888">铁结构，铝塑板，铝边黑白板发光字(内藏</tspan><tspan x="1888" dy="13.4">LED灯)。</tspan></text></g>
<g id="n7d3"><text class="t" x="1824" y="4490.7">3.价格、</text></g>
<g id="n7d3a"><text class="t" x="1898" y="4464.7"><tspan x="1898">结构部分：以展开面积计人民币350元/㎡，</tspan><tspan x="1898" dy="13.4">标志中英文字体人民币15000元/套;广告牌制</tspan><tspan x="1898" dy="13.4">作安装合同以上各项费用包括喷绘费、制作费</tspan><tspan x="1898" dy="13.4">、安装费、材料费、人工费、运输费、装卸费</tspan><tspan x="1898" dy="13.4">，不含税费。</tspan></text></g>
<g id="n7e"><text class="t" x="1688" y="4569.7">二.质量要求：</text></g>
<g id="n7e1"><text class="t" x="1786" y="4562.7"><tspan x="1786">乙方应保证其制作及安装产品的质量符合甲方</tspan><tspan x="1786" dy="13.4">要求，产品应表面平整，安装牢固。</tspan></text></g>
<g id="n7f"><text class="t" x="1688" y="4641.7">三、付款方式：</text></g>
<g id="n7f1"><text class="t" x="1793" y="4621.7"><tspan x="1793">各营业点招牌制作安装完毕并经甲方验收合格</tspan><tspan x="1793" dy="13.4">之日起七日内，甲方向乙方一次性付清工程款</tspan><tspan x="1793" dy="13.4">项，乙方可以向甲方提供合法发票，甲方负责</tspan><tspan x="1793" dy="13.4">税费。</tspan></text></g>
<g id="n7g"><text class="t" x="1688" y="4729.7">四.本协议一式肆份，甲、乙双方各执两份。</text></g>
<g id="n7g1"><text class="t" x="1920" y="4729.7">甲方：乙方：</text></g>
<g id="n7g1a"><text class="t" x="2019" y="4707.7">(签字盖章) (签字盖章)</text></g>
<g id="n7g1b"><text class="t" x="2019" y="4752.7">年 月 日 年 月 日</text></g>

<g id="n9a"><text class="t" x="1688" y="4797.7">南京燕歌文化传播有限公司</text></g>
<g id="n9b"><text class="t" x="1688" y="4934.7">公司成员：</text></g>
<g id="n9b1"><text class="t" x="1773" y="4843.7">燕鹏：15151846191</text></g>
<g id="n9b2"><text class="t" x="1773" y="4889.7">袁欣坤：15952044464</text></g>
<g id="n9b3"><text class="t" x="1773" y="4934.7">张宇：15050584841</text></g>
<g id="n9b4"><text class="t" x="1773" y="4980.7">王娟：15896452903</text></g>
<g id="n9b5"><text class="t" x="1773" y="5026.7">刘方平：13913312453</text></g>
<g id="n9c"><text class="t" x="1688" y="5406.7">执行团队：</text></g>
<g id="n9c1"><text class="t" x="1773" y="5072.7">妍子团队（杨颖）</text></g>
<g id="n9c2"><text class="t" x="1773" y="5117.7">小米团队（程云）</text></g>
<g id="n9c3"><text class="t" x="1773" y="5163.7">托外团队（胡飞）</text></g>
<g id="n9c4"><text class="t" x="1773" y="5209.7">留恋团队（刘莲）</text></g>
<g id="n9c5"><text class="t" x="1773" y="5254.7">盖帘团队（王子）</text></g>
<g id="n9c6"><text class="t" x="1773" y="5300.7">优胜团队（王毅）</text></g>
<g id="n9c7"><text class="t" x="1773" y="5345.7">一、公司名称</text></g>
<g id="n9c7a"><text class="t" x="1869" y="5345.7">南京燕歌文化传播有限公司</text></g>
<g id="n9c8"><text class="t" x="1773" y="5411.7">二、名称涵义</text></g>
<g id="n9c8a"><text class="t" x="1869" y="5391.7"><tspan x="1869">燕子是春天的使者，春天是充满生命的季节，</tspan><tspan x="1869" dy="13.4">是充满活力的季节，我们就是青春，我们就是</tspan><tspan x="1869" dy="13.4">阳光，我们就是充满激情！严格要求自己严格</tspan><tspan x="1869" dy="13.4">按照客户要求策划执行活动。</tspan></text></g>
<g id="n9c9"><text class="t" x="1773" y="5476.7">三、公司类型</text></g>
<g id="n9c9a"><text class="t" x="1869" y="5476.7">全面服务型广告公司</text></g>
<g id="n9c10"><text class="t" x="1773" y="5742.7">四、公司经营内容</text></g>
<g id="n9c10a"><text class="t" x="1890" y="5522.7"><tspan x="1890">1.向广告主介绍广告的功能以及各类广告的作</tspan><tspan x="1890" dy="13.4">用。</tspan></text></g>
<g id="n9c10b"><text class="t" x="1890" y="5582.7"><tspan x="1890">2.根据广告主的要求提供市场调查、研究和预</tspan><tspan x="1890" dy="13.4">测，广告策略。</tspan></text></g>
<g id="n9c10c"><text class="t" x="1890" y="5640.7"><tspan x="1890">3.向广告主提出广告建议以及各类与广告有关</tspan><tspan x="1890" dy="13.4">的咨询。</tspan></text></g>
<g id="n9c10d"><text class="t" x="1890" y="5699.7"><tspan x="1890">4.为广告主提供广告计划、设计、制作以及策</tspan><tspan x="1890" dy="13.4">划等。</tspan></text></g>
<g id="n9c10e"><text class="t" x="1890" y="5758.7"><tspan x="1890">5.为广告主进行企业统一形象及识别系统设计</tspan><tspan x="1890" dy="13.4">。</tspan></text></g>
<g id="n9c10f"><text class="t" x="1890" y="5817.7">6.联系媒体，提供媒体策略和广告实施方案。</text></g>
<g id="n9c10g"><text class="t" x="1890" y="5862.7">7.实施广告方案。</text></g>
<g id="n9c10h"><text class="t" x="1890" y="5908.7">8.对广告效果进行调查、检测与评估。</text></g>
<g id="n9c10i"><text class="t" x="1890" y="5954.7">9.提供兼职团队（各类）</text></g>

<g id="n2a"><text class="t e" x="736" y="585.7">公司简介怎么写</text></g>
<g id="n2b"><text class="t" x="529" y="768.7"><tspan x="529">企业简介是介绍公司什么时间成立、住所地、</tspan><tspan x="529" dy="13.3">规模、经营范围、法定代表人、有何特点等等</tspan><tspan x="529" dy="13.3">。所谓简介，也就是让他人通过您写的简介能</tspan><tspan x="529" dy="13.3">了解你们公司的一些基本情况，或者您想要重</tspan><tspan x="529" dy="13.3">点介绍你们公司的哪一方面的情况。它包含的</tspan><tspan x="529" dy="13.3">内容一般有：</tspan></text></g>
<g id="n2b1"><text class="t" x="290" y="631.7"><tspan x="290">1.公司概况：注册时间,注册资本,公司性质,技</tspan><tspan x="290" dy="13.3">术力量,规模,员工人数,员工素质等。比如您可</tspan><tspan x="290" dy="13.3">以写一下公司如何成立，规模，实力。</tspan></text></g>
<g id="n2b2"><text class="t" x="290" y="703.7"><tspan x="290">2.公司的发展状况：看重公司的发展速度,有</tspan><tspan x="290" dy="13.3">何成绩,有何荣誉称号等。</tspan></text></g>
<g id="n2b3"><text class="t e" x="495" y="762.7">3.公司的主要产品：性能,特色,创新,超前。</text></g>
<g id="n2b4"><text class="t" x="290" y="952.7"><tspan x="290">5.良好的售后服务。写下自己售后服务的承诺</tspan><tspan x="290" dy="13.3">。</tspan></text></g>
<g id="n2b4a"><text class="t" x="50" y="808.7"><tspan x="50">祝君成功选择了一篇比较大众化的范文，您可</tspan><tspan x="50" dy="13.3">以根据自己的需求，将其个性化。下面企业的</tspan><tspan x="50" dy="13.3">简介比较长，当然，你也可以写一篇短的，只</tspan><tspan x="50" dy="13.3">要能介绍出自己的特色，介绍出自己服务的特</tspan><tspan x="50" dy="13.3">点，突出自己的与众不同的服务非常重要，比</tspan><tspan x="50" dy="13.3">如我们的“您的方便，我们的追求”。</tspan></text></g>
<g id="n2b4b"><text class="t e" x="255" y="919.7">北京天派心宇广告公司简介范文</text></g>
<g id="n2b4c"><text class="t" x="50" y="965.7"><tspan x="50">北京天派心宇广告公司是一家兼广告与公关效</tspan><tspan x="50" dy="13.3">劳的专业化公司。目前效劳客户触及化妆品、</tspan><tspan x="50" dy="13.3">群众消费品、时髦文娱、安康、传媒等范畴。</tspan></text></g>
<g id="n2b4d"><text class="t" x="50" y="1036.7"><tspan x="50">北京天派心宇广告公司如今职人员均具有专业</tspan><tspan x="50" dy="13.3">资深阅历和媒体传达、公关活动、广揭发布与</tspan><tspan x="50" dy="13.3">施行等执行层面的雄厚实力，且于女性消费市</tspan><tspan x="50" dy="13.3">场行销参谋、公关战略征 询等专业范畴更深</tspan><tspan x="50" dy="13.3">具见地。公司运作形式成熟流利，应用弱小的</tspan><tspan x="50" dy="13.3">本地化操作才能和行销资源，与国际及外资企</tspan><tspan x="50" dy="13.3">业、旧事界打下了坚实的协作根底。</tspan></text></g>

<g id="n4a"><text class="t e" x="736" y="1162.7">公司简介</text></g>
<g id="n4b"><text class="t" x="529" y="1208.7"><tspan x="529">北京精诚泰恒广告设计制作有限公司是一家集</tspan><tspan x="529" dy="13.3">写真喷绘、VI设计、便携展具销售、广告制</tspan><tspan x="529" dy="13.3">品与制作、印刷、工艺礼品制作为一体的综合</tspan><tspan x="529" dy="13.3">性广告公司。公司创立于20xx年， 公司有着</tspan><tspan x="529" dy="13.3">科学的工艺流程、严谨的工作态度、亲切的服</tspan><tspan x="529" dy="13.3">务和优质的产品， 对客户的每一项细微要求</tspan><tspan x="529" dy="13.3">，我们都力求使其完美。 在这里您可以得到</tspan><tspan x="529" dy="13.3">我们 24小时的全心服务、认真的对待，对于</tspan><tspan x="529" dy="13.3">您的要求，我们随时候命，为您的事业增色添</tspan><tspan x="529" dy="13.3">彩，帮助您企业品牌的成长。</tspan></text></g>
<g id="n4c"><text class="t" x="529" y="1372.7"><tspan x="529">主营业务：写真喷绘，数码印花，展览展示，</tspan><tspan x="529" dy="13.3">标识标牌，立体雕刻 亚克力发光字，</tspan><tspan x="529" dy="13.3">吸塑灯箱，滚动灯箱，超薄灯箱，LED显</tspan></text></g>
<g id="n4d"><text class="t" x="529" y="1445.7"><tspan x="529">示屏，LED光源模组 楼体亮化工程，霓虹灯</tspan><tspan x="529" dy="13.3">，工地围挡，</tspan></text></g>
<g id="n4e"><text class="t e" x="736" y="1503.7">VI设计，四色印刷，工艺礼品</text></g>
<g id="n4f"><text class="t e" x="736" y="1549.7">企业类型：有限责任公司</text></g>
<g id="n4g"><text class="t e" x="736" y="1594.7">业务介绍：</text></g>
<g id="n4g1"><text class="t e" x="653" y="1594.7">一、喷绘业务</text></g>

<g id="n6a"><text class="t e" x="736" y="1640.7">甲方：（以下简称甲方）</text></g>
<g id="n6b"><text class="t e" x="736" y="1686.7">乙方：（以下简称乙方）</text></g>
<g id="n6c"><text class="t" x="529" y="1732.7"><tspan x="529">根据《xxx合同法》的有关细则规定，结合广</tspan><tspan x="529" dy="13.3">告产品具体情况，经双方协商一致，本着自愿</tspan><tspan x="529" dy="13.3">、平等、互利为原则，签订如下条款，共同遵</tspan><tspan x="529" dy="13.3">信执守。</tspan></text></g>
<g id="n6d"><text class="t e" x="736" y="1840.7">一、项目名称和地点</text></g>
<g id="n6d1"><text class="t e" x="609" y="1817.7">1、项目名称： 型广告塔n座</text></g>
<g id="n6d2"><text class="t e" x="609" y="1862.7">2、工程地点：</text></g>
<g id="n6e"><text class="t e" x="736" y="1987.7">二、工程内容：</text></g>
<g id="n6e1"><text class="t e" x="630" y="1942.7">1、依据甲乙双方确认的《</text></g>
<g id="n6e1a"><text class="t" x="269" y="1909.7"><tspan x="269">》施工，钢结构加工包括结构表面刷两遍漆(</tspan><tspan x="269" dy="13.3">色)，工程做法及选材标准详见施工图。</tspan></text></g>
<g id="n6e1b"><text class="t e" x="473" y="1967.7">委托加工数量为型广告塔n座。</text></g>
<g id="n6e2"><text class="t" x="423" y="2013.7"><tspan x="423">2、乙方负责广告塔钢结构配件加工及钢结构</tspan><tspan x="423" dy="13.3">配件运输、安装。面板、马道、基础、灯具</tspan><tspan x="423" dy="13.3">由乙方自理。合同生效后，由乙方向甲方提供</tspan><tspan x="423" dy="13.3">施工图两套(含钢结构及基础施工图)。</tspan></text></g>
<g id="n6f"><text class="t e" x="736" y="2134.7">三、承包方式和造价：</text></g>
<g id="n6f1"><text class="t" x="392" y="2098.7"><tspan x="392">型广告塔n座，单价每座元(大写：)。合计人</tspan><tspan x="392" dy="13.3">民币x元，大写：x元整;</tspan></text></g>
<g id="n6f2"><text class="t" x="392" y="2157.7"><tspan x="392">本项目由甲方以包工包料方式委托乙方加工广</tspan><tspan x="392" dy="13.3">告塔钢结构及基础施工。</tspan></text></g>
<g id="n6g"><text class="t e" x="736" y="2216.7">四、工程价款支付、结算方式：</text></g>

<g id="n8a"><text class="t e" x="736" y="2262.7">委托方(以下简称甲方)：</text></g>
<g id="n8b"><text class="t e" x="736" y="3327.7">承揽方(以下简称乙方)：</text></g>
<g id="n8b1"><text class="t" x="384" y="2307.7"><tspan x="384">经甲乙双方共同协商，甲方委托乙方承建户外</tspan><tspan x="384" dy="13.3">大型高炮广告牌，为明确双方权利义务，特订</tspan><tspan x="384" dy="13.3">立本合同。</tspan></text></g>
<g id="n8b2"><text class="t e" x="592" y="2433.7">一、工程概况：</text></g>
<g id="n8b2a"><text class="t" x="279" y="2378.7"><tspan x="279">1、该广告设置要求为：乙方包工包料(不含灯</tspan><tspan x="279" dy="13.3">具及电器设备和辅材)，数量只，广告牌下口</tspan><tspan x="279" dy="13.3">距地面高度为 米，立柱颜色为 色，广告面为</tspan><tspan x="279" dy="13.3">彩钢蒙面，广告牌规格为：</tspan></text></g>
<g id="n8b2b"><text class="t e" x="485" y="2464.7">2、上述广告牌工程施工图纸。</text></g>
<g id="n8b3"><text class="t e" x="592" y="2772.7">二、甲方的责任：</text></g>
<g id="n8b3a"><text class="t" x="268" y="2510.7"><tspan x="268">1、办理土地征用，拆迁补偿，平整施工场地</tspan><tspan x="268" dy="13.3">等工作，使施工场地具备施工条件，在开工后</tspan><tspan x="268" dy="13.3">继续负责解决以下问题。</tspan></text></g>
<g id="n8b3b"><text class="t" x="268" y="2582.7"><tspan x="268">2、将施工所需水、电、线路从施工场地外部</tspan><tspan x="268" dy="13.3">接至施工地点，保证施工期间的需要。</tspan></text></g>
<g id="n8b3c"><text class="t" x="268" y="2641.7"><tspan x="268">3、向乙方提供施工场地的工程地质和地下管</tspan><tspan x="268" dy="13.3">线资料，对资料的真实准确性负责。</tspan></text></g>
<g id="n8b3d"><text class="t e" x="475" y="2699.7">4、应由甲方承担其它工作。</text></g>
<g id="n8b3e"><text class="t" x="268" y="2745.7"><tspan x="268">5、开通施工场地与城乡公共道路的通道，以</tspan><tspan x="268" dy="13.3">及施工场地内的主要道路，满足施工运输的需</tspan><tspan x="268" dy="13.3">要，保证施工期间的畅通。</tspan></text></g>
<g id="n8b3f"><text class="t" x="268" y="2817.7"><tspan x="268">6、根据工程进度依据合同约定内容对乙方的</tspan><tspan x="268" dy="13.3">工作结果给予验收评定。</tspan></text></g>
<g id="n8b3g"><text class="t" x="268" y="2877.7"><tspan x="268">7、处理施工场地周围的地下管线和邻近建筑</tspan><tspan x="268" dy="13.3">物、构筑群(包括文物保护建筑)、古树古木的</tspan><tspan x="268" dy="13.3">保护工作并承担有关费用。</tspan></text></g>
<g id="n8b3h"><text class="t" x="268" y="2948.7"><tspan x="268">8、甲方负责交警、路政、高速公路管理处、</tspan><tspan x="268" dy="13.3">城管、地方群众的协调工作。在协调工程中造</tspan><tspan x="268" dy="13.3">成乙方的误工费由甲方承担。</tspan></text></g>
<g id="n8b3i"><text class="t e" x="475" y="3020.7">9、立柱基础由甲方制建。</text></g>
<g id="n8b4"><text class="t e" x="592" y="3230.7">三、乙方责任</text></g>
<g id="n8b4a"><text class="t" x="290" y="3067.7"><tspan x="290">1、按合同和合同附件约定内容，保质保量完</tspan><tspan x="290" dy="13.3">成本协议工程项目。</tspan></text></g>
<g id="n8b4b"><text class="t" x="290" y="3125.7"><tspan x="290">2、根据工作需要，提供和维修施工使用的照</tspan><tspan x="290" dy="13.3">明、围栏设施，并负责安全保卫。</tspan></text></g>
<g id="n8b4c"><text class="t" x="290" y="3184.7"><tspan x="290">3、已竣工工程未交付甲方之前，乙方负责已</tspan><tspan x="290" dy="13.3">完成工程的保护工作，保护期间发生损坏，乙</tspan><tspan x="290" dy="13.3">方自费予以修复。</tspan></text></g>
<g id="n8b4d"><text class="t" x="290" y="3256.7"><tspan x="290">4、乙方接受甲方依据合同相关条款对本工程</tspan><tspan x="290" dy="13.3">全程监督，依据实际结果给乙方验收评定。甲</tspan><tspan x="290" dy="13.3">方提出施工中出现的违规问题，乙方应立即给</tspan><tspan x="290" dy="13.3">予答复并及时处理，否则，由此产生的经济损</tspan><tspan x="290" dy="13.3">失和后果由乙方承担。</tspan></text></g>
<g id="n8b4e"><text class="t" x="290" y="3354.7"><tspan x="290">5、该广告工程竣工后在质保期内因人为所致</tspan><tspan x="290" dy="13.3">、不可抗力所致产生的结果，乙方不予承担责</tspan><tspan x="290" dy="13.3">任，确系质量问题造成的无法修复的严重损坏</tspan><tspan x="290" dy="13.3">乙方向甲方赔偿广告牌等值费用，产生的后果</tspan><tspan x="290" dy="13.3">由乙方承担。出现可修复质量问题，由乙方免</tspan><tspan x="290" dy="13.3">费修理。</tspan></text></g>
<g id="n8b5"><text class="t e" x="592" y="3630.7">四、工程施工工期：</text></g>
<g id="n8b5a"><text class="t" x="259" y="3467.7"><tspan x="259">自甲方通知进场施工起 个工作日工程竣工。</tspan><tspan x="259" dy="13.3">因以下原因造成工期延误，工期相应顺延，并</tspan><tspan x="259" dy="13.3">由甲方承担延期竣工的相应损失。</tspan></text></g>
<g id="n8b5b"><text class="t e" x="467" y="3539.7">1、甲方未能按约定提供开工条件。</text></g>
<g id="n8b5c"><text class="t e" x="467" y="3584.7">2、设计变更和工程量增加。</text></g>
<g id="n8b5d"><text class="t" x="259" y="3630.7"><tspan x="259">3、非乙方原因停水、停电、停气等造成停工</tspan><tspan x="259" dy="13.3">。</tspan></text></g>
<g id="n8b5e"><text class="t e" x="467" y="3689.7">4、不可抗力。</text></g>
<g id="n8b5f"><text class="t e" x="467" y="3734.7">5、经双方协商同意工期顺延。</text></g>
<g id="n8b5g"><text class="t e" x="467" y="3780.7">6、甲方未按约定时间付款的延期时日。</text></g>
<g id="n8b6"><text class="t e" x="592" y="3832.7">五、合同总价：</text></g>
<g id="n8b6a"><text class="t" x="279" y="3826.7"><tspan x="279">经双方商定，广告牌施工承包价元，共计小写</tspan><tspan x="279" dy="13.3">整大写：人民币 元整。</tspan></text></g>
<g id="n8b7"><text class="t e" x="592" y="3917.7">六、付款方式</text></g>
<g id="n8b7a"><text class="t" x="289" y="3884.7"><tspan x="289">合同签订生效后，甲方付乙方合同总款40%</tspan><tspan x="289" dy="13.3">计： 元定金;待该工程竣工后甲方验收完成，</tspan><tspan x="289" dy="13.3">再付55%工程款计 元本工程竣工后7日内甲</tspan><tspan x="289" dy="13.3">方今年据本合同相关条款给乙方结算工程款。</tspan><tspan x="289" dy="13.3">余款5%计： 元为工程质量保证金，工程质量</tspan><tspan x="289" dy="13.3">保证期到期前7日内，一次性付清乙方。</tspan></text></g>
<g id="n8b8"><text class="t" x="385" y="3997.7"><tspan x="385">七、乙方应遵守安全生产有关管理规定，严格</tspan><tspan x="385" dy="13.3">按安全标准组织施工，采取必要的安全防护措</tspan><tspan x="385" dy="13.3">施，消除事故隐患。由于乙方安全措施不力造</tspan><tspan x="385" dy="13.3">成事故的责任和因此发生的费用，由乙方自行</tspan><tspan x="385" dy="13.3">承担，甲方不得要求承包人违反安全管理的规</tspan><tspan x="385" dy="13.3">定进行施工，因甲方原因导致的安全事故，由</tspan><tspan x="385" dy="13.3">甲方承担相应责任。</tspan></text></g>
<g id="n8b9"><text class="t" x="385" y="4122.7"><tspan x="385">八、乙方应保证工程质量，质保时间为一年，</tspan><tspan x="385" dy="13.3">一年内由乙方免费保养，从第二年起由甲方负</tspan><tspan x="385" dy="13.3">责每年的维护。人为或不可抗拒力量原因引起</tspan><tspan x="385" dy="13.3">的损坏，不在质量保证范围，如有维修另作收</tspan><tspan x="385" dy="13.3">费。</tspan></text></g>
<g id="n8b10"><text class="t" x="385" y="4219.7"><tspan x="385">九、工程竣工时乙方应通知甲方，甲方接合同</tspan><tspan x="385" dy="13.3">和合同约定相关验收内容要求对工程进行验收</tspan><tspan x="385" dy="13.3">，自工程竣工乙方通知甲方之日起超过七日，</tspan><tspan x="385" dy="13.3">甲方仍未验收的，视为验收完毕，验收之日即</tspan><tspan x="385" dy="13.3">为合同标的物交付之日。</tspan></text></g>
<g id="n8b11"><text class="t" x="385" y="4318.7"><tspan x="385">十、在工程施工过程中，如出现第三方干涉工</tspan><tspan x="385" dy="13.3">程施工情况，乙方 应在第一时间内向甲方通</tspan><tspan x="385" dy="13.3">报。甲方应及时予以解决。</tspan></text></g>
<g id="n8b11a"><text class="t" x="145" y="4318.7"><tspan x="145">十一、本合同如有未尽事宜，双方协商解决，</tspan><tspan x="145" dy="13.3">可以另行签定补充协议，作为本合同的组成部</tspan><tspan x="145" dy="13.3">分。</tspan></text></g>
<g id="n8c"><text class="t" x="529" y="4439.7"><tspan x="529">十二、本合同自双方签章之日生效，本合同一</tspan><tspan x="529" dy="13.3">式两份，双方各执一份。时间重点补充：</tspan></text></g>
<g id="n8c1"><text class="t e" x="495" y="4392.7">甲方(公章)：_______乙方(公章)：_______</text></g>
<g id="n8c2"><text class="t" x="289" y="4437.7"><tspan x="289">法定代表人(签字)：_______法定代表人(签</tspan><tspan x="289" dy="13.3">字)：_______</tspan></text></g>
<g id="n8c3"><text class="t" x="289" y="4495.7"><tspan x="289">_______年___月___日_______年___月___</tspan><tspan x="289" dy="13.3">_日</tspan></text></g>

<g id="n10a"><text class="t e" x="736" y="4554.7">甲方：</text></g>
<g id="n10b"><text class="t e" x="736" y="4731.7">乙方：</text></g>
<g id="n10b1"><text class="t" x="464" y="4600.7"><tspan x="464">甲乙双方为明确各自的权利和义务，经协商，</tspan><tspan x="464" dy="13.3">根据《xxx合同法》、《xxx广告法》和《建</tspan><tspan x="464" dy="13.3">筑安装工程承包合同条例》及其他法律、法规</tspan><tspan x="464" dy="13.3">之规定，现就乙方承揽广告牌(以下简称广告</tspan><tspan x="464" dy="13.3">牌)的制作安装事宜达成如下一致协议。</tspan></text></g>
<g id="n10b2"><text class="t e" x="671" y="4744.7">一、广告牌制作</text></g>
<g id="n10b2a"><text class="t e" x="566" y="4698.7">1、广告牌规格：</text></g>
<g id="n10b2b"><text class="t e" x="566" y="4744.7">2、材质：</text></g>
<g id="n10b2c"><text class="t e" x="566" y="4789.7">3、要求：</text></g>
<g id="n10b3"><text class="t e" x="671" y="4835.7">二、广告牌安装</text></g>
<g id="n10c"><text class="t e" x="736" y="5032.7">安装地点：</text></g>
<g id="n10c1"><text class="t e" x="652" y="4921.7">三、工程造价及支付方式</text></g>
<g id="n10c1a"><text class="t" x="297" y="4882.7"><tspan x="297">1.广告牌制作费(即合同总价款)：共计人民币</tspan><tspan x="297" dy="13.3">元，大写 元整。</tspan></text></g>
<g id="n10c1b"><text class="t e" x="503" y="4953.7">2.支付方式：</text></g>
<g id="n10c1b1"><text class="t" x="203" y="4939.7"><tspan x="203">a.合同签订时甲方预付百分之三十工程款。广</tspan><tspan x="203" dy="13.3">告牌制作安装合同b.制作安装完成后，经甲方</tspan><tspan x="203" dy="13.3">验收合格，即付清所有工程款项。</tspan></text></g>
<g id="n10c2"><text class="t e" x="652" y="5058.7">四、工程期限</text></g>
<g id="n10c2a"><text class="t" x="348" y="5012.7"><tspan x="348">1、自合同签订甲方预付工程款之日起 天，如</tspan><tspan x="348" dy="13.3">遇不可抗力因素(如雨、雪、四级以上大风)工</tspan><tspan x="348" dy="13.3">期顺延。</tspan></text></g>
<g id="n10c2b"><text class="t" x="348" y="5084.7"><tspan x="348">2、因甲方反复提出修改意见导致乙方工作不</tspan><tspan x="348" dy="13.3">能按时完成时，可由双方协商确定延期时间。</tspan></text></g>
<g id="n10c3"><text class="t e" x="652" y="5143.7">五、双方权利、义务</text></g>
<g id="n10d"><text class="t e" x="736" y="5797.7">甲方：</text></g>
<g id="n10d1"><text class="t" x="464" y="5189.7"><tspan x="464">1、办理广告牌设置、安装所必须的报批手续</tspan><tspan x="464" dy="13.3">及相关费用。</tspan></text></g>
<g id="n10d2"><text class="t" x="464" y="5247.7"><tspan x="464">2、有权对乙方的设计提出建议和修改意见，</tspan><tspan x="464" dy="13.3">以使乙方设计的作品更符合甲方单位文化内涵</tspan><tspan x="464" dy="13.3">。</tspan></text></g>
<g id="n10d3"><text class="t" x="464" y="5319.7"><tspan x="464">3、向乙方提供广告牌位置并确保此位置无管</tspan><tspan x="464" dy="13.3">道线路，可以施工。</tspan></text></g>
<g id="n10d4"><text class="t" x="464" y="5378.7"><tspan x="464">4、有义务提供有关单位资料或其他有关资料</tspan><tspan x="464" dy="13.3">供乙方设计参考。</tspan></text></g>
<g id="n10d5"><text class="t" x="468" y="5437.7">5、负责施工现场的树木、花、草可以移动。</text></g>
<g id="n10d6"><text class="t" x="464" y="5483.7"><tspan x="464">6、按本合同规定结算广告牌的制作、安装费</tspan><tspan x="464" dy="13.3">用。乙方：</tspan></text></g>
<g id="n10d7"><text class="t" x="464" y="5542.7"><tspan x="464">1、自甲方通知可以现场施工起，按甲方提供</tspan><tspan x="464" dy="13.3">的安装地点在规定的时间内制作施工并安装完</tspan><tspan x="464" dy="13.3">毕。</tspan></text></g>
<g id="n10d8"><text class="t" x="464" y="5614.7"><tspan x="464">2、严格按照甲方确认的施工方案图纸进行制</tspan><tspan x="464" dy="13.3">作、安装。如现场条件与施工图纸方案不符，</tspan><tspan x="464" dy="13.3">应及时报请甲方协商修改确定。</tspan></text></g>
<g id="n10d9"><text class="t" x="510" y="5686.7">3、乙方对设计的作品享有著作权。</text></g>
<g id="n10d9a"><text class="t e" x="477" y="5686.7">六、关于验收</text></g>
<g id="n10d10"><text class="t" x="464" y="5732.7"><tspan x="464">1. 乙方全部制作安装完工后一周内，甲方必</tspan><tspan x="464" dy="13.3">须组织正式验收。 - 2 -</tspan></text></g>
<g id="n10d10a"><text class="t" x="225" y="5732.7"><tspan x="225">甲方在完工后一周内不组织验收，乙方可视同</tspan><tspan x="225" dy="13.3">甲方验收工程质量合格。</tspan></text></g>
<g id="n10d11"><text class="t" x="464" y="5791.7"><tspan x="464">2. 工程质量验收以国家钢结构施工标准为依</tspan><tspan x="464" dy="13.3">据，广告结构制作安装应当牢固，抗风力应达</tspan><tspan x="464" dy="13.3">到7级。</tspan></text></g>
<g id="n10d11a"><text class="t e" x="431" y="5804.7">七、违约责任</text></g>
<g id="n10d12"><text class="t" x="464" y="5863.7"><tspan x="464">1. 甲方未能按本合同第三条规定时间付款，</tspan><tspan x="464" dy="13.3">每逾期一日，应以合同总金额的千分之五计算</tspan><tspan x="464" dy="13.3">，向乙方支付违约金并将合同工期顺延。</tspan></text></g>
<g id="n10d13"><text class="t" x="464" y="5935.7"><tspan x="464">2. 乙方如无正当理由未能按本合同第四条规</tspan><tspan x="464" dy="13.5">定按时制作、安装完成广告牌，每逾期一日，</tspan><tspan x="464" dy="13.5">乙方应向甲方支付合同总金额的千分之五作为</tspan><tspan x="464" dy="13.5">违约金。</tspan></text></g>
<g id="n10d14"><text class="t" x="464" y="6020.7"><tspan x="464">3. 乙方应保证工程质量、结构牢固性、抗风</tspan><tspan x="464" dy="13.5">力等指标达到国家标准。如未达标乙方应承担</tspan><tspan x="464" dy="13.5">返工及相应损失.</tspan></text></g>
<g id="n10d15"><text class="t" x="464" y="6093.7"><tspan x="464">4. 如属甲方原因，造成中途停工，停建，拆</tspan><tspan x="464" dy="13.5">除等，均由甲方负责。乙方有权就实际施工情</tspan><tspan x="464" dy="13.5">况要求甲方支付已完部分或全部的制作费。</tspan></text></g>
<g id="n10d15a"><text class="t e" x="428" y="6106.7">八、因广告所产生的责任的承担</text></g>
<g id="n10d16"><text class="t" x="464" y="6165.7"><tspan x="464">1、在本广告的制作、设置过程中，如因乙方</tspan><tspan x="464" dy="13.5">原因造成第三人的人身或财产损害，均与甲方</tspan><tspan x="464" dy="13.5">无关。</tspan></text></g>
<g id="n10d17"><text class="t" x="464" y="6236.7"><tspan x="464">2、由于商标、肖像、广告词及其他因甲方提</tspan><tspan x="464" dy="13.5">供的广告内容而产生的纠纷由甲方承担全部的</tspan><tspan x="464" dy="13.5">责任。</tspan></text></g>
<g id="n10d17a"><text class="t e" x="428" y="6250.7">九、保修期限</text></g>
<g id="n10d18"><text class="t" x="464" y="6310.7"><tspan x="464">1、自验收合格之日起，乙方制作的工程项目</tspan><tspan x="464" dy="13.5">钢体质保半年，人为损毁乙方不负责保修。</tspan></text></g>
<g id="n10d19"><text class="t" x="464" y="6388.7"><tspan x="464">2、保修期满后，双方另签维修协议进行维修</tspan><tspan x="464" dy="13.5">。十、双方因本合同发生争议，应友好协商</tspan><tspan x="464" dy="13.5">解决，协商不成的由长汀县仲裁委员会仲裁。</tspan></text></g>
<g id="n10d19a"><text class="t" x="225" y="6368.7"><tspan x="225">十一、此合同一式贰份，甲、乙双方各执一份</tspan><tspan x="225" dy="13.5">，具有同等法律效力。</tspan></text></g>
<g id="n10d19b"><text class="t e" x="431" y="6427.7">十二、本合同一经签订即产生法律效力。</text></g>
<g id="n10e"><text class="t e" x="736" y="6472.7">甲方：乙方：</text></g>
<g id="n10e1"><text class="t e" x="637" y="6472.7">(盖章) (盖章)</text></g>
</g>
</svg>
